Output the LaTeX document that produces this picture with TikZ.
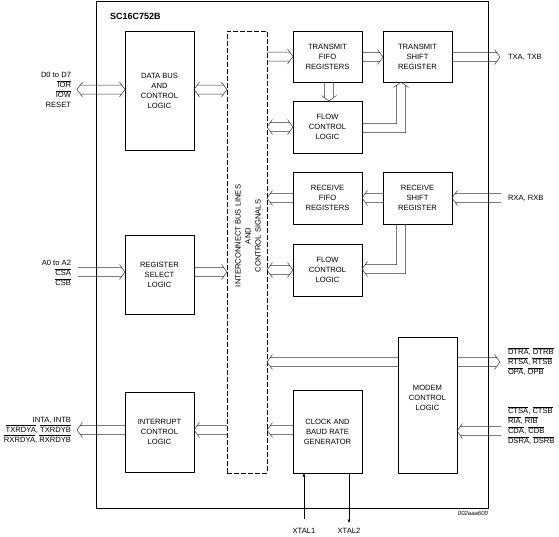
\documentclass[tikz,border=0pt]{standalone}
\usepackage{fontspec}
\setmainfont{Liberation Sans}
\usetikzlibrary{calc,arrows.meta}
\newcommand\ovl[1]{$\overline{\mbox{#1}}$}
% bus arrows: #1 start, #2 end (same y / same x)
\newcommand\busE[2]{\draw[bus] let \p1=(#1), \p2=(#2) in
  (\x1,\y1+4.5pt) -- (\x2-3.3pt,\y1+4.5pt)
  (\x1,\y1-4.5pt) -- (\x2-3.3pt,\y1-4.5pt)
  (\x2-5.5pt,\y1+7.5pt) -- (\x2,\y1) -- (\x2-5.5pt,\y1-7.5pt);}
\newcommand\busW[2]{\draw[bus] let \p1=(#1), \p2=(#2) in
  (\x1,\y1+4.5pt) -- (\x2+3.3pt,\y1+4.5pt)
  (\x1,\y1-4.5pt) -- (\x2+3.3pt,\y1-4.5pt)
  (\x2+5.5pt,\y1+7.5pt) -- (\x2,\y1) -- (\x2+5.5pt,\y1-7.5pt);}
\newcommand\busEW[2]{\draw[bus] let \p1=(#1), \p2=(#2) in
  (\x1+3.3pt,\y1+4.5pt) -- (\x2-3.3pt,\y1+4.5pt)
  (\x1+3.3pt,\y1-4.5pt) -- (\x2-3.3pt,\y1-4.5pt)
  (\x2-5.5pt,\y1+7.5pt) -- (\x2,\y1) -- (\x2-5.5pt,\y1-7.5pt)
  (\x1+5.5pt,\y1+7.5pt) -- (\x1,\y1) -- (\x1+5.5pt,\y1-7.5pt);}
\newcommand\busS[2]{\draw[bus] let \p1=(#1), \p2=(#2) in
  (\x1+4.5pt,\y1) -- (\x1+4.5pt,\y2+3.3pt)
  (\x1-4.5pt,\y1) -- (\x1-4.5pt,\y2+3.3pt)
  (\x1+7.5pt,\y2+5.5pt) -- (\x1,\y2) -- (\x1-7.5pt,\y2+5.5pt);}
\begin{document}
\begin{tikzpicture}[x=1pt,y=-1pt,line join=miter,
  every node/.style={font=\fontsize{7.6}{10}\selectfont, inner sep=0pt, outer sep=0pt},
  blk/.style={draw, line width=0.8pt, fill=white, minimum width=69pt, align=center},
  bus/.style={draw=black!80, line width=0.5pt},
  lbl/.style={align=left},
  lblr/.style={align=right},
  xtal/.style={line width=0.5pt, -{Latex[length=3.5pt,width=3pt]}}]
\useasboundingbox (0,0) rectangle (559,536);

% outer chip
\node[draw, line width=0.8pt, minimum width=392pt, minimum height=507pt] (chip) at (292,254.5) {};
\node[anchor=west, font=\fontsize{9}{10}\selectfont\bfseries] (title) at (110,16) {SC16C752B};

% blocks
\node[blk, minimum height=119pt] (dbus) at (159.5,90.5) {DATA BUS\\AND\\CONTROL\\LOGIC};
\node[draw, line width=0.8pt, dash pattern=on 5pt off 2pt, minimum width=40pt, minimum height=442pt] (ic) at (247,252) {};
\node[rotate=90, align=center] (ictext) at (248,236) {INTERCONNECT BUS LINES\\AND\\CONTROL SIGNALS};
\node[blk, minimum height=51pt] (txf) at (327.5,56.5) {TRANSMIT\\FIFO\\REGISTERS};
\node[blk, minimum height=51pt] (txs) at (417.5,56.5) {TRANSMIT\\SHIFT\\REGISTER};
\node[blk, minimum height=52pt] (fc1) at (327.5,127) {FLOW\\CONTROL\\LOGIC};
\node[blk, minimum height=52pt] (rxf) at (327.5,198) {RECEIVE\\FIFO\\REGISTERS};
\node[blk, minimum height=52pt] (rxs) at (417.5,198) {RECEIVE\\SHIFT\\REGISTER};
\node[blk, minimum height=52pt] (fc2) at (327.5,270) {FLOW\\CONTROL\\LOGIC};
\node[blk, minimum height=79pt] (rsel) at (159.5,274.5) {REGISTER\\SELECT\\LOGIC};
\node[blk, minimum height=80pt] (intr) at (159.5,432) {INTERRUPT\\CONTROL\\LOGIC};
\node[blk, minimum width=59pt, minimum height=136pt] (modem) at (427.5,405) {MODEM\\CONTROL\\LOGIC\\[4pt]};
\node[blk, minimum height=83pt] (clk) at (327.5,431.5) {CLOCK AND\\BAUD RATE\\GENERATOR};

% free ends
\coordinate (dport) at (77,89.5);
\coordinate (aport) at (78,272);
\coordinate (iport) at (77,430);
\coordinate (txport) at (500,57);
\coordinate (rxport) at (501,198);
\coordinate (mout) at (500,362);
\coordinate (min) at (501,431);
\coordinate (e1) at (401,128);
\coordinate (e2) at (401,269);
\coordinate (xt1) at (304,519);
\coordinate (xt2) at (349,523);

% bus connectors
\busEW{dport}{dbus.west |- dport}
\busEW{dbus.east |- dport}{ic.west |- dport}
\busE{ic.east |- 0,56.5}{txf.west |- 0,56.5}
\busE{txf.east |- 0,57}{txs.west |- 0,57}
\busE{txs.east |- txport}{txport}
\busS{329,0 |- txf.south}{329,0 |- fc1.north}
\draw[bus] let \p1=(fc1.east |- e1), \p2=(txs.south -| e1) in
  (\x1,\y1+4.5pt) -| (\x2-4.5pt,\y2-3.3pt)
  (\x1,\y1-4.5pt) -| (\x2+4.5pt,\y2-3.3pt)
  (\x2-7.5pt,\y2-5.5pt) -- (\x2,\y2) -- (\x2+7.5pt,\y2-5.5pt);
\busEW{ic.east |- 0,127}{fc1.west |- 0,127}
\busW{rxs.west |- rxport}{rxf.east |- rxport}
\busW{rxf.west |- rxport}{ic.east |- rxport}
\busW{rxport}{rxs.east |- rxport}
\draw[bus] let \p1=(rxs.south -| e2), \p2=(fc2.east |- e2) in
  (\x1-4.5pt,\y1) |- (\x2+3.3pt,\y2+4.5pt)
  (\x1+4.5pt,\y1) |- (\x2+3.3pt,\y2-4.5pt)
  (\x2+5.5pt,\y2+7.5pt) -- (\x2,\y2) -- (\x2+5.5pt,\y2-7.5pt);
\busEW{ic.east |- 0,270}{fc2.west |- 0,270}
\busE{aport}{rsel.west |- aport}
\busE{rsel.east |- aport}{ic.west |- aport}
\busW{ic.west |- iport}{intr.east |- iport}
\busW{intr.west |- iport}{iport}
\busW{clk.west |- iport}{ic.east |- iport}
\busW{modem.west |- mout}{ic.east |- mout}
\busE{modem.east |- mout}{mout}
\busW{min}{modem.east |- min}

% clock pins
\draw[xtal] (xt1) -- (xt1 |- clk.south);
\draw[xtal] (xt2 |- clk.south) -- (xt2);
\node (xl1) at (304,531) {XTAL1};
\node (xl2) at (349,531) {XTAL2};

% port labels
\node[lblr, anchor=east] (ld) at (71,90) {D0 to D7\\\ovl{IOR}\\\ovl{IOW}\\RESET};
\node[lblr, anchor=east] (la) at (71,273.3) {A0 to A2\\\ovl{CSA}\\\ovl{CSB}};
\node[lblr, anchor=east] (li) at (71,430) {INTA, INTB\\\ovl{TXRDYA}, \ovl{TXRDYB}\\\ovl{RXRDYA}, \ovl{RXRDYB}};
\node[lbl, anchor=west] (ltx) at (508,57) {TXA, TXB};
\node[lbl, anchor=west] (lrx) at (508,198) {RXA, RXB};
\node[lbl, anchor=west] (lmo) at (508,361.7) {\ovl{DTRA}, \ovl{DTRB}\\\ovl{RTSA}, \ovl{RTSB}\\\ovl{OPA}, \ovl{OPB}};
\node[lbl, anchor=west] (lmi) at (508,425.7) {\ovl{CTSA}, \ovl{CTSB}\\\ovl{RIA}, \ovl{RIB}\\\ovl{CDA}, \ovl{CDB}\\\ovl{DSRA}, \ovl{DSRB}};
\node[anchor=east, font=\fontsize{6}{7}\selectfont\itshape] (code) at (488,513.5) {002aaa600};
\end{tikzpicture}
\end{document}
